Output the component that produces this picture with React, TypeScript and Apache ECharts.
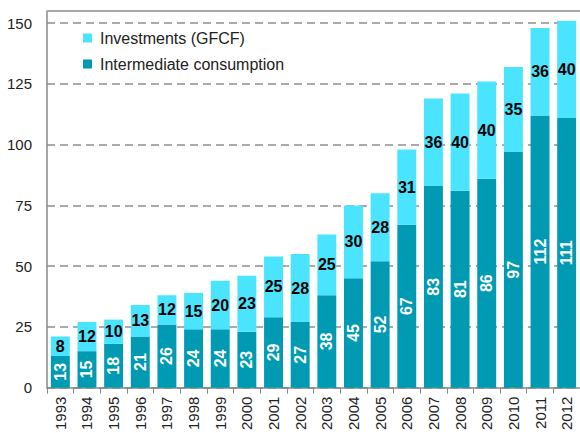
import React, { useEffect, useRef } from "react";
import * as echarts from "echarts";

const years = ["1993","1994","1995","1996","1997","1998","1999","2000","2001","2002","2003","2004","2005","2006","2007","2008","2009","2010","2011","2012"];
const intermediate = [13,15,18,21,26,24,24,23,29,27,38,45,52,67,83,81,86,97,112,111];
const investments = [8,12,10,13,12,15,20,23,25,28,25,30,28,31,36,40,40,35,36,40];
const yTicks = [0,25,50,75,100,125,150];

export default function App() {
  const ref = useRef<HTMLDivElement>(null);
  useEffect(() => {
    const chart = echarts.init(ref.current!, null, { renderer: "svg" });
    chart.setOption({
      animation: false,
      textStyle: { fontFamily: "Liberation Sans, Arial, sans-serif" },
      legend: {
        orient: "vertical",
        left: 78,
        top: 25,
        itemWidth: 9,
        itemHeight: 9,
        itemGap: 10,
        icon: "rect",
        textStyle: { fontSize: 16, color: "#222", padding: [0, 0, 0, 3] },
        data: ["Investments (GFCF)", "Intermediate consumption"],
      },
      grid: {
        left: 47,
        top: 11,
        width: 535,
        bottom: 44,
        containLabel: false,
      },
      xAxis: {
        type: "category",
        data: years,
        axisLine: { lineStyle: { color: "#888", width: 1.5 } },
        axisTick: { show: true, length: 6, lineStyle: { color: "#888" } },
        axisLabel: { rotate: 90, fontSize: 15, color: "#222", margin: 9, interval: 0 },
      },
      yAxis: {
        type: "value",
        min: 0,
        max: 155,
        interval: 25,
        axisLine: { show: true, lineStyle: { color: "#888", width: 1.5 } },
        axisTick: { show: false },
        axisLabel: {
          fontSize: 15,
          color: "#222",
          margin: 15,
          formatter: (v: number) => (yTicks.includes(v) ? String(v) : ""),
        },
        splitLine: { show: true, lineStyle: { color: "#aaa", width: 2, type: [8, 5] } },
      },
      series: [
        {
          name: "Intermediate consumption",
          type: "bar",
          stack: "total",
          data: intermediate,
          barCategoryGap: "29%",
          itemStyle: { color: "#009AB3" },
          label: {
            show: true,
            position: "inside",
            rotate: 90,
            color: "#fff",
            fontWeight: "bold",
            fontSize: 16,
          },
          markLine: {
            silent: true,
            symbol: "none",
            label: { show: false },
            lineStyle: { color: "#a8a8a8", width: 2, type: "solid" },
            data: [{ yAxis: 155 }],
          },
        },
        {
          name: "Investments (GFCF)",
          type: "bar",
          stack: "total",
          data: investments,
          itemStyle: { color: "#4AE4FF" },
          label: {
            show: true,
            position: "inside",
            color: "#000",
            fontWeight: "bold",
            fontSize: 16,
          },
        },
      ],
    });
    return () => chart.dispose();
  }, []);
  return <div ref={ref} style={{ width: 580, height: 433, position: "absolute", left: 0, top: 0 }} />;
}
